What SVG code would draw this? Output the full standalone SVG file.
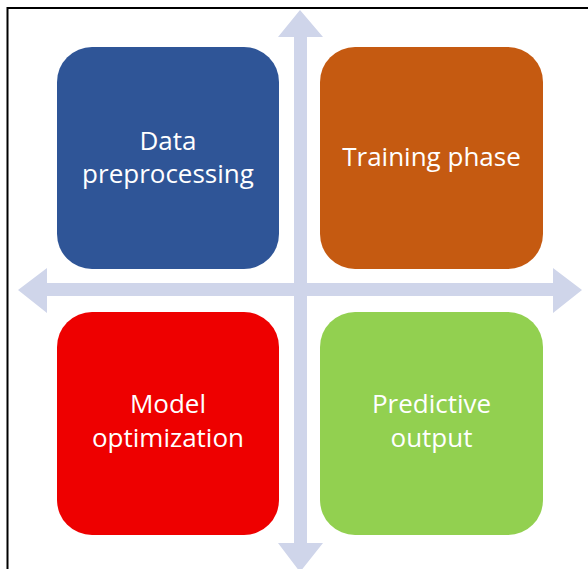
<svg xmlns="http://www.w3.org/2000/svg" width="588" height="569" viewBox="0 0 588 569">
<style>
.lbl{font-family:"Open Sans","Noto Sans","Liberation Sans",sans-serif;font-size:26px;fill:#ffffff;text-anchor:middle}
.arr{fill:#CFD5EA}
</style>
<rect x="0" y="0" width="588" height="569" fill="#ffffff"/>
<path d="M7.5 569 V8 H588" fill="none" stroke="#000" stroke-width="2"/>
<g id="connectors">
<polygon class="arr" points="300,10 323,37 307,37 307,283 553,283 553,268 582,290 553,313 553,296 307,296 307,543 323,543 300,572 278,543 294,543 294,296 47,296 47,313 18,290 47,268 47,283 294,283 294,37 278,37"/>
</g>
<g id="data-preprocessing">
<rect x="57" y="47" width="222" height="222" rx="35" fill="#2F5597"/>
<text class="lbl" x="168" y="150">Data</text>
<text class="lbl" x="168" y="183">preprocessing</text>
</g>
<g id="training-phase">
<rect x="320" y="47" width="223" height="222" rx="35" fill="#C55A11"/>
<text class="lbl" x="431.5" y="166">Training phase</text>
</g>
<g id="model-optimization">
<rect x="57" y="312" width="222" height="223" rx="35" fill="#EE0000"/>
<text class="lbl" x="168" y="413">Model</text>
<text class="lbl" x="168" y="447">optimization</text>
</g>
<g id="predictive-output">
<rect x="320" y="312" width="223" height="223" rx="35" fill="#92D050"/>
<text class="lbl" x="431.5" y="413">Predictive</text>
<text class="lbl" x="431.5" y="447">output</text>
</g>
</svg>
